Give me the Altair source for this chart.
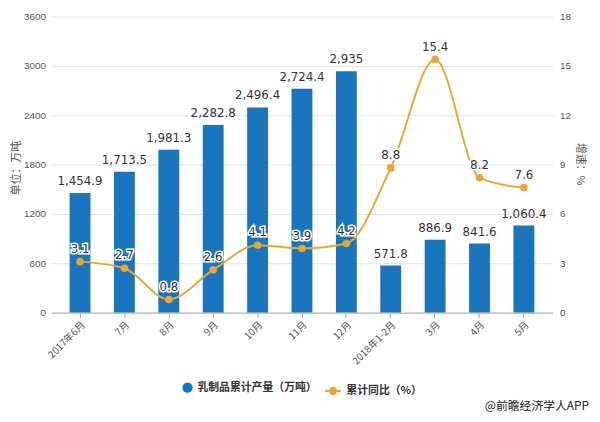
import altair as alt
import pandas as pd

months = ["2017年6月", "7月", "8月", "9月", "10月", "11月", "12月", "2018年1-2月", "3月", "4月", "5月"]
production = [1454.9, 1713.5, 1981.3, 2282.8, 2496.4, 2724.4, 2935, 571.8, 886.9, 841.6, 1060.4]
growth = [3.1, 2.7, 0.8, 2.6, 4.1, 3.9, 4.2, 8.8, 15.4, 8.2, 7.6]
left_ticks = [0, 600, 1200, 1800, 2400, 3000, 3600]
right_ticks = [0, 3, 6, 9, 12, 15, 18]
bar_name = "乳制品累计产量（万吨）"
line_name = "累计同比（%）"
source_note = "@前瞻经济学人APP"

BLUE = "#1B75BC"
GOLD = "#E8A634"


def fmt(v):
    s = f"{v:,.1f}"
    return s[:-2] if s.endswith(".0") else s


df = pd.DataFrame({
    "month": months,
    "prod": production,
    "growth": growth,
    "prod_label": [fmt(v) for v in production],
    "growth_label": [str(v) for v in growth],
    "s1": [bar_name] * len(months),
    "s2": [line_name] * len(months),
})
note_df = pd.DataFrame({"note": [source_note]})

x = alt.X(
    "month:N", sort=months, title=None,
    scale=alt.Scale(paddingInner=0.53, paddingOuter=0.41),
    axis=alt.Axis(labelAngle=-45, labelFontSize=10, labelColor="#555", labelFont="Noto Sans CJK SC",
                  domainColor="#aaa", tickColor="#aaa", tickSize=5, labelPadding=2),
)

y_left = alt.Y(
    "prod:Q", scale=alt.Scale(domain=[0, 3600], nice=False),
    axis=alt.Axis(values=left_ticks, format="d", title="单位：万吨", titleFontSize=11, titleColor="#555",
                  titleFontWeight="normal", titleFont="Noto Sans CJK SC",
                  titleX=-30, titleY=153, titleAngle=-90,
                  labelFontSize=10, labelColor="#555", labelPadding=6,
                  domain=False, ticks=False, gridColor="#e3e3e3"),
)

bars = alt.Chart(df).mark_bar().encode(
    x=x, y=y_left,
    fill=alt.Fill("s1:N", scale=alt.Scale(domain=[bar_name], range=[BLUE]),
                  legend=alt.Legend(title=None, orient="none", legendX=132, legendY=370,
                                    symbolType="circle", symbolSize=110, labelFontSize=11,
                                    labelColor="#333", labelFont="Noto Sans CJK SC", labelFontWeight="bold")),
)

bar_text = alt.Chart(df).mark_text(baseline="bottom", dy=-5, fontSize=12, color="#333",
                                   font="DejaVu Sans").encode(
    x=x, y=y_left, text="prod_label:N",
)

left = alt.layer(bars, bar_text)

y_right = alt.Y("growth:Q", scale=alt.Scale(domain=[0, 18], nice=False),
                axis=alt.Axis(values=right_ticks, orient="right", title="增速：%", titleAngle=90,
                              titleFontSize=11, titleColor="#555", titleFontWeight="normal",
                              titleFont="Noto Sans CJK SC", titleX=22, titleY=149,
                              labelFontSize=10, labelColor="#555", labelPadding=7,
                              domain=False, ticks=False, grid=False))

line = alt.Chart(df).mark_line(interpolate="monotone", strokeWidth=2).encode(
    x=x, y=y_right,
    stroke=alt.Stroke("s2:N", scale=alt.Scale(domain=[line_name], range=[GOLD]),
                      legend=alt.Legend(title=None, orient="none", legendX=276, legendY=370,
                                        symbolType="M-1,0L1,0M0.4,0A0.4,0.4 0 1,1 -0.4,0A0.4,0.4 0 1,1 0.4,0Z",
                                        symbolSize=260, symbolFillColor=GOLD, symbolStrokeWidth=2,
                                        labelFontSize=11, labelColor="#333",
                                        labelFont="Noto Sans CJK SC", labelFontWeight="bold")),
)

pts = alt.Chart(df).mark_point(filled=True, size=60, color=GOLD, opacity=1).encode(
    x=x, y=y_right,
)

halo = alt.Chart(df).mark_text(baseline="bottom", dy=-6, fontSize=12, font="DejaVu Sans",
                               stroke="white", strokeWidth=3, fill="white").encode(
    x=x, y=y_right, text="growth_label:N",
)
gtext = alt.Chart(df).mark_text(baseline="bottom", dy=-6, fontSize=12, font="DejaVu Sans",
                                color="#333").encode(
    x=x, y=y_right, text="growth_label:N",
)

watermark = alt.Chart(note_df).mark_text(align="right", baseline="middle", fontSize=12, color="#222",
                                         font="Noto Sans CJK SC").encode(
    x=alt.value(545), y=alt.value(395), text="note:N",
)

right = alt.layer(line, pts, halo, gtext)

chart = alt.layer(left, right, watermark).resolve_scale(
    y="independent", fill="independent", stroke="independent"
).properties(
    width=508, height=300,
    autosize=alt.AutoSizeParams(type="none"),
    padding={"left": 44, "top": 6, "right": 40, "bottom": 100},
).configure_view(stroke=None)

chart.save("out.html", embed_options={"renderer": "svg", "actions": False})
